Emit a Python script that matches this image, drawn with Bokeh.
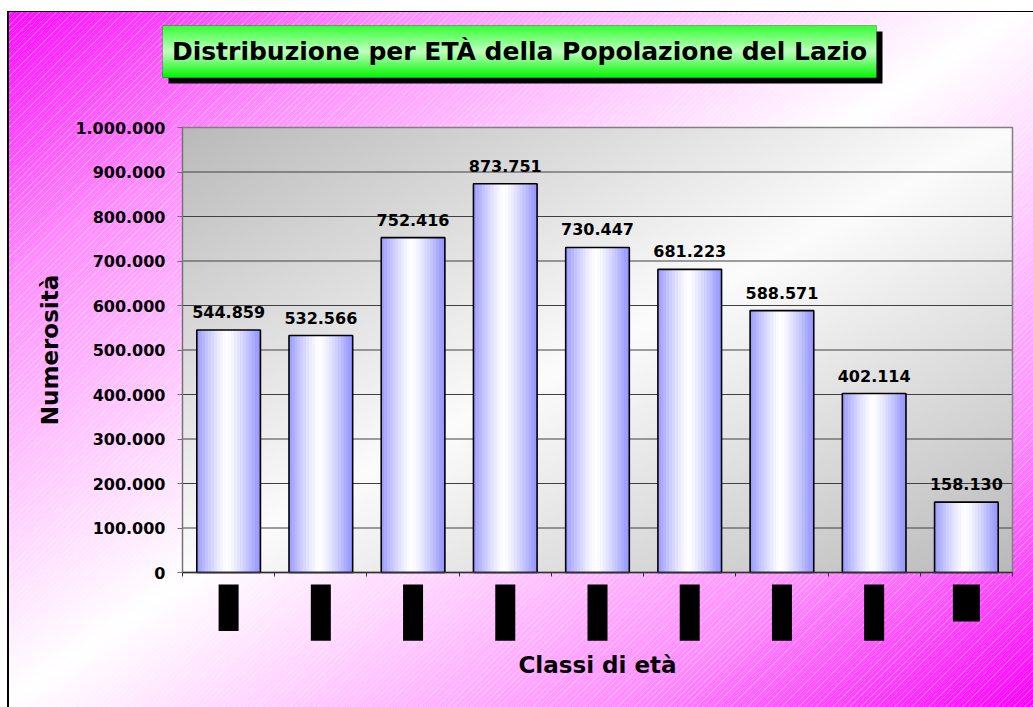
import numpy as np
from math import pi
from bokeh.plotting import figure
from bokeh.models import (Range1d, FixedTicker, CustomJSTickFormatter, Label,
                          BoxAnnotation, InlineStyleSheet, ColumnDataSource)
from bokeh.core.properties import value
from bokeh.embed import file_html
from bokeh.resources import INLINE

# ---------------- data ----------------
categories = ["0-10", "11-20", "21-30", "31-40", "41-50", "51-60", "61-70", "71-80", ">80"]
popolazione = [544859, 532566, 752416, 873751, 730447, 681223, 588571, 402114, 158130]
y_ticks = [0, 100000, 200000, 300000, 400000, 500000, 600000, 700000, 800000, 900000, 1000000]
title_text = "Distribuzione per ETÀ della Popolazione del Lazio"
x_title = "Classi di età"
y_title = "Numerosità"

# ---------------- layout (pixels on the canvas) ----------------
W, H = 1033, 707
AREA_L, AREA_R, AREA_T, AREA_B = 182, 1012, 127, 572   # plot area in canvas px

n = len(categories)
xs = np.arange(1, n + 1, dtype=float)
x0, x1 = 0.5, n + 0.5
y0, y1 = 0, y_ticks[-1]
sx = (x1 - x0) / (AREA_R - AREA_L)
sy = (y1 - y0) / (AREA_B - AREA_T)
xr = Range1d(x0 - AREA_L * sx, x1 + (W - AREA_R) * sx)
yr = Range1d(y0 - (H - AREA_B) * sy, y1 + AREA_T * sy)

p = figure(width=W, height=H, output_backend="svg", toolbar_location=None,
           x_range=xr, y_range=yr, min_border=0)
p.title.visible = False
p.border_fill_color = None
p.background_fill_color = None
p.outline_line_color = None

css = """
:host {
  background:
    linear-gradient(#ffffff, #ffffff) 0 0 / 100% 11px no-repeat,
    linear-gradient(#ffffff, #ffffff) 0 0 / 7px 100% no-repeat,
    linear-gradient(#000000, #000000) 7px 11px / 100% 1px no-repeat,
    linear-gradient(#000000, #000000) 7px 11px / 2px 100% no-repeat,
    repeating-linear-gradient(135deg, rgba(255,255,255,0.25) 0px, rgba(255,255,255,0.25) 1px,
                              rgba(255,255,255,0) 1px, rgba(255,255,255,0) 4px),
    linear-gradient(to bottom right, #ff00ff 0%, #ff8cff 20%, #ffccff 36%, #ffffff 50%,
                    #ffccff 64%, #ff8cff 80%, #ff00ff 100%);
}
"""
p.stylesheets = [InlineStyleSheet(css=css)]

# plot-area diagonal gray gradient (style only)
ny, nx = 120, 240
gx = np.linspace(0, 1, nx)[None, :]
gy = np.linspace(1, 0, ny)[:, None]  # row 0 = bottom
t = (gx + gy) / 2.0
k = 1 - np.abs(2 * t - 1)
gray = 186 + (252 - 186) * k
img = np.empty((ny, nx), dtype=np.uint32)
view = img.view(dtype=np.uint8).reshape((ny, nx, 4))
view[:, :, 0] = gray
view[:, :, 1] = gray
view[:, :, 2] = gray
view[:, :, 3] = 255
bg = p.image_rgba(image=[img], x=x0, y=y0, dw=x1 - x0, dh=y1 - y0)
bg.level = "image"

# ---------------- axes ----------------
p.yaxis.fixed_location = x0
p.yaxis.bounds = (y0, y1)
p.yaxis.ticker = FixedTicker(ticks=y_ticks)
p.yaxis.formatter = CustomJSTickFormatter(
    code="return Math.round(tick).toString().replace(/\\B(?=(\\d{3})+(?!\\d))/g, '.');")
p.yaxis.major_label_text_font = "DejaVu Sans"
p.yaxis.major_label_text_font_style = "bold"
p.yaxis.major_label_text_font_size = "16px"
p.yaxis.major_label_text_color = "#000000"
p.yaxis.major_label_standoff = 12
p.yaxis.major_tick_in = 0
p.yaxis.major_tick_out = 5
p.yaxis.minor_tick_line_color = None
p.yaxis.axis_line_color = "#707070"
p.yaxis.major_tick_line_color = "#707070"
p.yaxis.axis_label = y_title
p.yaxis.axis_label_text_font = "DejaVu Sans"
p.yaxis.axis_label_text_font_style = "bold"
p.yaxis.axis_label_text_font_size = "23px"
p.yaxis.axis_label_text_color = "#000000"
p.yaxis.axis_label_standoff = 9

bounds = [x0 + i for i in range(n + 1)]
p.xaxis.fixed_location = y0
p.xaxis.bounds = (x0, x1)
p.xaxis.ticker = FixedTicker(ticks=bounds)
p.xaxis.major_label_overrides = {b: "" for b in bounds}
p.xaxis.major_label_text_font_size = "1px"
p.xaxis.major_tick_in = 0
p.xaxis.major_tick_out = 4
p.xaxis.minor_tick_line_color = None
p.xaxis.axis_line_color = "#303030"
p.xaxis.axis_line_width = 1.5
p.xaxis.major_tick_line_color = "#303030"
p.xaxis.axis_label = x_title
p.xaxis.axis_label_text_font = "DejaVu Sans"
p.xaxis.axis_label_text_font_style = "bold"
p.xaxis.axis_label_text_font_size = "23px"
p.xaxis.axis_label_text_color = "#000000"
p.xaxis.axis_label_standoff = 75

p.xgrid.grid_line_color = None
p.ygrid.grid_line_color = None

# horizontal grid lines at the y ticks, limited to the plot area
inner = y_ticks[1:-1]
p.segment(x0=[x0] * len(inner), x1=[x1] * len(inner), y0=inner, y1=inner,
          line_color="#404040", line_width=1)
p.quad(left=[x0], right=[x1], bottom=[y0], top=[y1], fill_color=None,
       line_color="#808080", line_width=1.5)

# ---------------- bars (banded horizontal gradient) ----------------
bar_w = 0.69
p.vbar(x=xs, top=popolazione, bottom=0, width=bar_w, fill_color="#d8d8ff", line_color=None)
nstrip = 22
blue = np.array([0x99, 0x99, 0xff], dtype=float)
white = np.array([0xff, 0xff, 0xff], dtype=float)
for j in range(nstrip):
    c = (j + 0.5) / nstrip
    d = min(1.0, abs(c - 0.48) / 0.48)
    f = d ** 1.3
    col = white * (1 - f) + blue * f
    hexcol = "#%02x%02x%02x" % tuple(int(round(v)) for v in col)
    off = -bar_w / 2 + (j + 0.5) * bar_w / nstrip
    p.vbar(x=xs + off, top=popolazione, bottom=0, width=bar_w / nstrip * 1.15,
           fill_color=hexcol, line_color=None)

p.vbar(x=xs, top=popolazione, bottom=0, width=bar_w, fill_color=None,
       line_color="#000000", line_width=1.6)

labels = [f"{v:,}".replace(",", ".") for v in popolazione]
src = ColumnDataSource(dict(x=xs, y=popolazione, t=labels))
p.text(x="x", y="y", text="t", source=src, text_align="center",
       text_baseline="alphabetic", y_offset=-18,
       text_font=value("DejaVu Sans"), text_font_style="bold",
       text_font_size="16px", text_color="#000000")

# category labels (vertical, black boxes as in the original)
for xi, cat in zip(xs, categories):
    p.add_layout(Label(x=xi, y=y0, y_offset=-12, text=cat, angle=pi / 2,
                       text_align="right", text_baseline="middle",
                       text_font="DejaVu Sans Mono", text_font_style="bold",
                       text_font_size="16px", text_color="#000000",
                       background_fill_color="#000000", padding=4))

# ---------------- title box (screen units: x from left, y up from bottom) ----------------
def up(py):
    return H - py

p.add_layout(BoxAnnotation(left=168, right=882, bottom=up(83), top=up(31),
                           left_units="screen", right_units="screen",
                           top_units="screen", bottom_units="screen",
                           fill_color="#000000", fill_alpha=1.0, line_color=None))
tb_top, tb_bot = up(25), up(77)
nb = 26
hh = (tb_top - tb_bot) / nb
c_top = np.array([0x33, 0xff, 0x33], dtype=float)
c_mid = np.array([0xc0, 0xff, 0xc0], dtype=float)
c_bot = np.array([0x00, 0xf5, 0x00], dtype=float)
for j in range(nb):
    f = (j + 0.5) / nb
    if f < 0.5:
        col = c_top + (c_mid - c_top) * (f / 0.5)
    else:
        col = c_mid + (c_bot - c_mid) * ((f - 0.5) / 0.5)
    hexcol = "#%02x%02x%02x" % tuple(int(round(v)) for v in col)
    top = tb_top - j * hh
    p.add_layout(BoxAnnotation(left=162, right=876, bottom=top - hh - 0.5, top=top,
                               left_units="screen", right_units="screen",
                               top_units="screen", bottom_units="screen",
                               fill_color=hexcol, fill_alpha=1.0, line_color=None))
p.add_layout(BoxAnnotation(left=162, right=876, bottom=tb_bot, top=tb_top,
                           left_units="screen", right_units="screen",
                           top_units="screen", bottom_units="screen",
                           fill_color=None, fill_alpha=0, line_color="#202020",
                           line_width=1))
p.add_layout(Label(x=519, y=up(51), x_units="screen", y_units="screen",
                   text=title_text, text_align="center", text_baseline="middle",
                   text_font="DejaVu Sans", text_font_style="bold",
                   text_font_size="25px", text_color="#000000"))

open("out.html", "w").write(file_html(p, INLINE))
